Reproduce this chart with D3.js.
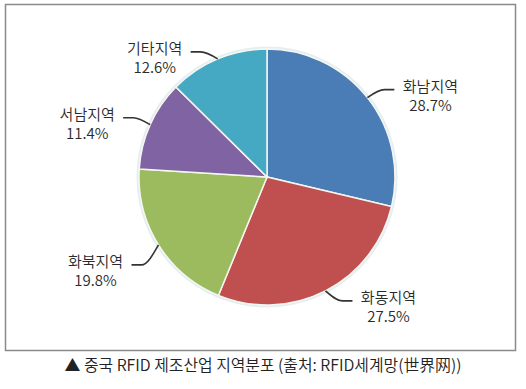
<!DOCTYPE html>
<html>
<head>
<meta charset="utf-8">
<script src="https://cdn.jsdelivr.net/npm/d3@7"></script>
<style>
  body { margin: 0; background: #fff; }
  svg { display: block; }
</style>
</head>
<body>
<svg id="chart"></svg>
<script>
const regions = ["화남지역", "화동지역", "화북지역", "서남지역", "기타지역"];
const shares = [28.7, 27.5, 19.8, 11.4, 12.6];
const colors = ["#4a7cb6", "#c0504f", "#9bbb5e", "#7f63a2", "#46a9c3"];
const caption = "▲ 중국 RFID 제조산업 지역분포 (출처: RFID세계망(世界网))";

const width = 526, height = 389;
const cx = 267, cy = 177, radius = 128;
// vertical bend of each leader line (layout only)
const leaderRise = [-8, 10, 20, -7, -7];

const svg = d3.select("#chart")
    .attr("width", width)
    .attr("height", height);

// frame
svg.append("rect")
    .attr("x", 5.5).attr("y", 4.5)
    .attr("width", 510).attr("height", 346)
    .attr("fill", "none")
    .attr("stroke", "#8a8a8a")
    .attr("stroke-width", 1.5);

const data = regions.map((r, i) => ({ name: r, value: shares[i], color: colors[i] }));

const pie = d3.pie().sort(null).value(d => d.value);
const arcs = pie(data);
const arc = d3.arc().innerRadius(0).outerRadius(radius);

const g = svg.append("g").attr("transform", "translate(" + cx + "," + cy + ")");

// soft rim
g.append("circle")
    .attr("r", radius + 1.5)
    .attr("fill", "none")
    .attr("stroke", "#e4eef2")
    .attr("stroke-width", 2);

g.selectAll("path")
    .data(arcs)
    .enter()
    .append("path")
    .attr("d", arc)
    .attr("fill", d => d.data.color)
    .attr("stroke", "#f4f6f0")
    .attr("stroke-width", 1.5);

// leader lines and labels
const labels = g.append("g");
arcs.forEach((d, i) => {
    const a = (d.startAngle + d.endAngle) / 2;
    const s = Math.sin(a), c = Math.cos(a);
    const side = s >= 0 ? 1 : -1;
    const p0 = [radius * s, -radius * c];
    const p1 = [p0[0] + side * 17, p0[1] + leaderRise[i]];
    const p2 = [p1[0] + side * 10, p1[1]];
    labels.append("path")
        .attr("d", d3.line().curve(d3.curveMonotoneX)([p0, p1, p2]))
        .attr("fill", "none")
        .attr("stroke", "#333")
        .attr("stroke-width", 1.6);
    const tx = p2[0] + side * 36;
    const ty = p2[1] - 3;
    const t = labels.append("text")
        .attr("text-anchor", "middle")
        .attr("font-family", "'Noto Sans CJK KR', 'Noto Sans', sans-serif")
        .attr("font-weight", 350)
        .attr("font-size", 15)
        .attr("fill", "#2a2a2a");
    t.append("tspan").attr("x", tx).attr("y", ty + 5).text(d.data.name);
    t.append("tspan").attr("x", tx).attr("y", ty + 24).text(d.data.value.toFixed(1) + "%");
});

// caption
svg.append("text")
    .attr("x", 263)
    .attr("y", 371)
    .attr("text-anchor", "middle")
    .attr("font-family", "'Noto Sans CJK KR', sans-serif")
    .attr("font-weight", 350)
    .attr("font-size", 16)
    .attr("textLength", 397)
    .attr("lengthAdjust", "spacingAndGlyphs")
    .attr("fill", "#222")
    .text(caption);
</script>
</body>
</html>
